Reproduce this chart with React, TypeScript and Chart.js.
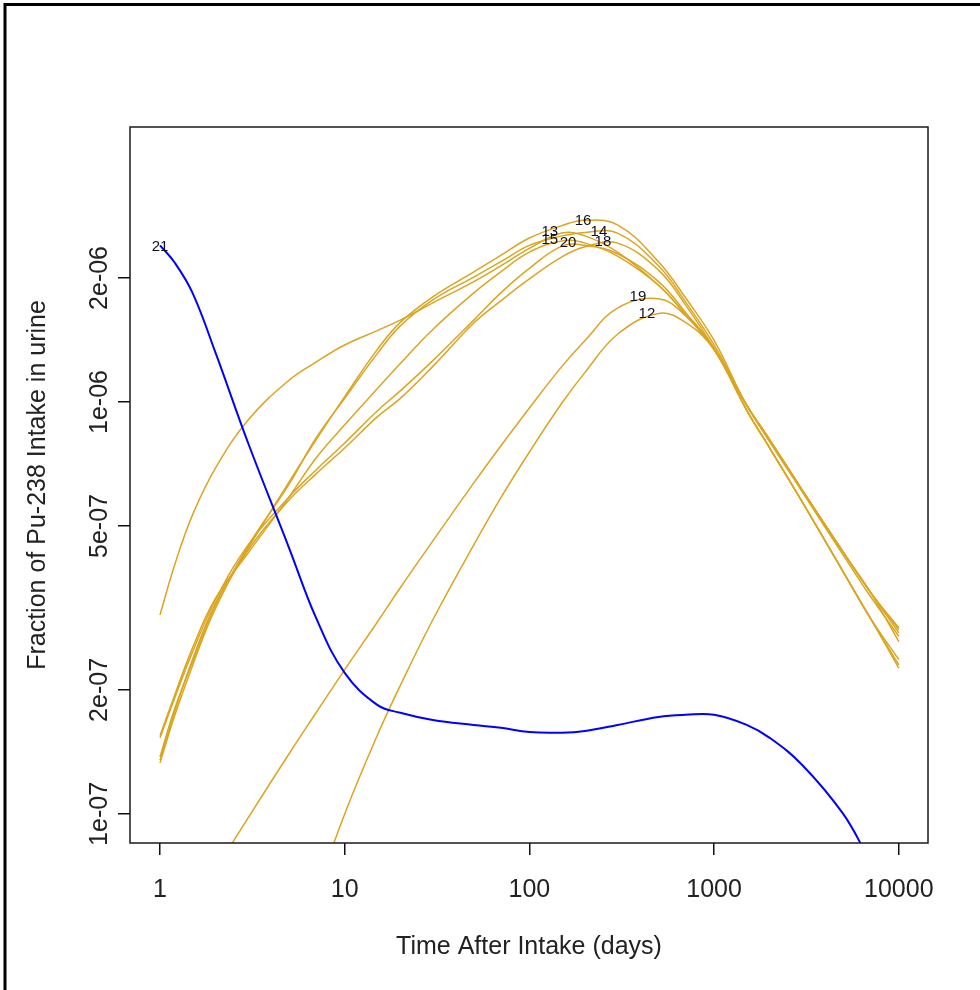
import React, { useEffect, useRef } from 'react';
import { Chart, registerables } from 'chart.js';

Chart.register(...registerables);

// Time grid (days after intake)
const days = [1, 1.2, 1.5, 2, 3, 5, 7, 10, 15, 20, 30, 50, 70, 100, 150, 200, 300, 500, 700, 1000, 1500, 2000, 3000, 5000, 7000, 10000];

// Fraction of Pu-238 intake in urine, per case
const s21 = [2.4e-6, 2.18e-6, 1.84e-6, 1.315e-6, 7.95e-7, 4.42e-7, 2.99e-7, 2.2e-7, 1.84e-7, 1.76e-7, 1.69e-7, 1.644e-7, 1.618e-7, 1.58e-7, 1.575e-7, 1.59e-7, 1.644e-7, 1.72e-7, 1.74e-7, 1.74e-7, 1.645e-7, 1.53e-7, 1.315e-7, 1.0e-7, 7.7e-8, 6.0e-8];
const s13 = [3.04e-7, 4.02e-7, 5.32e-7, 6.92e-7, 9.04e-7, 1.13e-6, 1.25e-6, 1.375e-6, 1.49e-6, 1.58e-6, 1.74e-6, 1.96e-6, 2.14e-6, 2.36e-6, 2.57e-6, 2.53e-6, 2.31e-6, 1.92e-6, 1.63e-6, 1.34e-6, 9.56e-7, 7.73e-7, 5.72e-7, 3.87e-7, 2.99e-7, 2.3e-7];
const s16 = [1.35e-7, 1.77e-7, 2.37e-7, 3.25e-7, 4.42e-7, 6.4e-7, 8.09e-7, 1.03e-6, 1.34e-6, 1.56e-6, 1.8e-6, 2.07e-6, 2.27e-6, 2.5e-6, 2.68e-6, 2.76e-6, 2.69e-6, 2.19e-6, 1.79e-6, 1.41e-6, 9.83e-7, 8.09e-7, 6.11e-7, 4.32e-7, 3.46e-7, 2.8e-7];
const s14 = [1.375e-7, 1.8e-7, 2.34e-7, 3.22e-7, 4.47e-7, 6.32e-7, 8.18e-7, 1.02e-6, 1.31e-6, 1.53e-6, 1.77e-6, 2.01e-6, 2.19e-6, 2.4e-6, 2.53e-6, 2.58e-6, 2.57e-6, 2.14e-6, 1.75e-6, 1.375e-6, 9.83e-7, 8.0e-7, 6.05e-7, 4.25e-7, 3.38e-7, 2.7e-7];
const s15 = [1.55e-7, 1.94e-7, 2.53e-7, 3.34e-7, 4.3e-7, 5.88e-7, 7.31e-7, 8.8e-7, 1.076e-6, 1.24e-6, 1.5e-6, 1.84e-6, 2.07e-6, 2.31e-6, 2.46e-6, 2.43e-6, 2.26e-6, 1.92e-6, 1.63e-6, 1.34e-6, 9.83e-7, 8.09e-7, 6.11e-7, 4.32e-7, 3.46e-7, 2.75e-7];
const s20 = [1.53e-7, 1.91e-7, 2.47e-7, 3.31e-7, 4.5e-7, 5.88e-7, 6.84e-7, 7.95e-7, 9.51e-7, 1.064e-6, 1.26e-6, 1.58e-6, 1.84e-6, 2.11e-6, 2.39e-6, 2.4e-6, 2.29e-6, 1.96e-6, 1.65e-6, 1.35e-6, 9.56e-7, 7.73e-7, 5.72e-7, 3.87e-7, 2.99e-7, 2.26e-7];
const s18 = [1.33e-7, 1.73e-7, 2.29e-7, 3.16e-7, 4.37e-7, 5.78e-7, 6.69e-7, 7.73e-7, 9.2e-7, 1.02e-6, 1.22e-6, 1.555e-6, 1.76e-6, 1.99e-6, 2.25e-6, 2.38e-6, 2.43e-6, 2.09e-6, 1.72e-6, 1.35e-6, 9.83e-7, 8.09e-7, 6.11e-7, 4.32e-7, 3.46e-7, 2.83e-7];
const s19 = [4.3e-8, 4.94e-8, 5.85e-8, 7.31e-8, 9.78e-8, 1.4e-7, 1.76e-7, 2.24e-7, 2.92e-7, 3.54e-7, 4.6e-7, 6.36e-7, 7.82e-7, 9.67e-7, 1.22e-6, 1.41e-6, 1.69e-6, 1.78e-6, 1.62e-6, 1.34e-6, 9.83e-7, 8.09e-7, 6.11e-7, 4.32e-7, 3.46e-7, 2.62e-7];
const s12 = [4.7e-9, 6.0e-9, 8.2e-9, 1.2e-8, 2.08e-8, 4.13e-8, 6.4e-8, 1.0e-7, 1.55e-7, 2.05e-7, 2.96e-7, 4.5e-7, 5.85e-7, 7.56e-7, 9.94e-7, 1.18e-6, 1.46e-6, 1.64e-6, 1.56e-6, 1.34e-6, 9.56e-7, 7.73e-7, 5.72e-7, 3.87e-7, 2.99e-7, 2.37e-7];

const seriesNames = ['21', '13', '16', '14', '15', '20', '18', '19', '12'];
const seriesValues = [s21, s13, s16, s14, s15, s20, s18, s19, s12];
const seriesColors = ['#0000ff', '#daa520', '#daa520', '#daa520', '#daa520', '#daa520', '#daa520', '#daa520', '#daa520'];

// Curve labels placed at each curve's maximum
const labelNames = ['21', '13', '15', '20', '16', '14', '18', '19', '12'];
const labelDays = [1, 129, 129, 162, 195, 238, 250, 387, 433];
const labelValues = [2.38e-6, 2.59e-6, 2.47e-6, 2.43e-6, 2.75e-6, 2.59e-6, 2.45e-6, 1.8e-6, 1.64e-6];

const xTickValues = [1, 10, 100, 1000, 10000];
const xTickLabels = ['1', '10', '100', '1000', '10000'];
const yTickValues = [1e-7, 2e-7, 5e-7, 1e-6, 2e-6];
const yTickLabels = ['1e-07', '2e-07', '5e-07', '1e-06', '2e-06'];

const xTitle = 'Time After Intake (days)';
const yTitle = 'Fraction of Pu-238 Intake in urine';

const FONT = '"Liberation Sans", Arial, sans-serif';

const decorPlugin = {
  id: 'decor',
  afterDatasetsDraw(chart: any) {
    const { ctx, scales } = chart;
    ctx.save();
    ctx.fillStyle = '#101020';
    ctx.font = `15px ${FONT}`;
    ctx.textAlign = 'center';
    ctx.textBaseline = 'middle';
    labelNames.forEach((n, i) => {
      ctx.fillText(n, scales.x.getPixelForValue(labelDays[i]), scales.y.getPixelForValue(labelValues[i]));
    });
    ctx.restore();
  },
  afterDraw(chart: any) {
    const { ctx, chartArea: a, scales } = chart;
    ctx.save();
    // outer frame
    ctx.strokeStyle = '#000';
    ctx.lineWidth = 3;
    ctx.beginPath();
    ctx.moveTo(5, 990);
    ctx.lineTo(5, 4.5);
    ctx.lineTo(980, 4.5);
    ctx.stroke();
    // plot box
    ctx.strokeStyle = '#1a1a1a';
    ctx.lineWidth = 1.5;
    ctx.strokeRect(a.left, a.top, a.right - a.left, a.bottom - a.top);
    // x tick labels
    ctx.fillStyle = '#222';
    ctx.font = `25px ${FONT}`;
    ctx.textAlign = 'center';
    ctx.textBaseline = 'alphabetic';
    xTickValues.forEach((v, i) => {
      ctx.fillText(xTickLabels[i], scales.x.getPixelForValue(v), a.bottom + 54);
    });
    ctx.fillText(xTitle, (a.left + a.right) / 2, a.bottom + 111);
    // y tick labels (rotated)
    yTickValues.forEach((v, i) => {
      ctx.save();
      ctx.translate(a.left - 23, scales.y.getPixelForValue(v));
      ctx.rotate(-Math.PI / 2);
      ctx.fillText(yTickLabels[i], 0, 0);
      ctx.restore();
    });
    ctx.save();
    ctx.translate(45, (a.top + a.bottom) / 2);
    ctx.rotate(-Math.PI / 2);
    ctx.fillText(yTitle, 0, 0);
    ctx.restore();
    ctx.restore();
  },
};

export default function App() {
  const ref = useRef<HTMLCanvasElement | null>(null);
  useEffect(() => {
    if (!ref.current) return;
    const chart = new Chart(ref.current, {
      type: 'line',
      data: {
        datasets: seriesValues.map((vals, i) => ({
          label: seriesNames[i],
          data: days.map((d, j) => ({ x: d, y: vals[j] })),
          borderColor: seriesColors[i],
          borderWidth: i === 0 ? 2 : 1.5,
          pointRadius: 0,
          fill: false,
          tension: 0.4,
          clip: 0,
        })),
      },
      options: {
        responsive: false,
        animation: false,
        devicePixelRatio: 1,
        layout: { padding: { left: 0, right: 52, top: 127, bottom: 0 } },
        elements: { line: { capBezierPoints: false } },
        plugins: { legend: { display: false }, tooltip: { enabled: false }, title: { display: false } },
        scales: {
          x: {
            type: 'logarithmic',
            position: 'bottom',
            min: 0.688,
            max: 14390,
            afterBuildTicks: (s: any) => { s.ticks = xTickValues.map((v) => ({ value: v })); },
            afterFit: (s: any) => { s.height = 147; },
            ticks: { display: false },
            grid: { drawOnChartArea: false, drawTicks: true, tickLength: 12, color: '#111', lineWidth: 1.5 },
            border: { display: false },
          },
          y: {
            type: 'logarithmic',
            position: 'left',
            min: 8.5e-8,
            max: 4.65e-6,
            afterBuildTicks: (s: any) => { s.ticks = yTickValues.map((v) => ({ value: v })); },
            afterFit: (s: any) => { s.width = 130; },
            ticks: { display: false },
            grid: { drawOnChartArea: false, drawTicks: true, tickLength: 12, color: '#111', lineWidth: 1.5 },
            border: { display: false },
          },
        },
      },
      plugins: [decorPlugin],
    } as any);
    return () => chart.destroy();
  }, []);
  return (
    <div style={{ position: 'absolute', left: 0, top: 0, width: 980, height: 990, background: '#fff' }}>
      <canvas ref={ref} width={980} height={990} style={{ width: 980, height: 990, display: 'block' }} />
    </div>
  );
}
